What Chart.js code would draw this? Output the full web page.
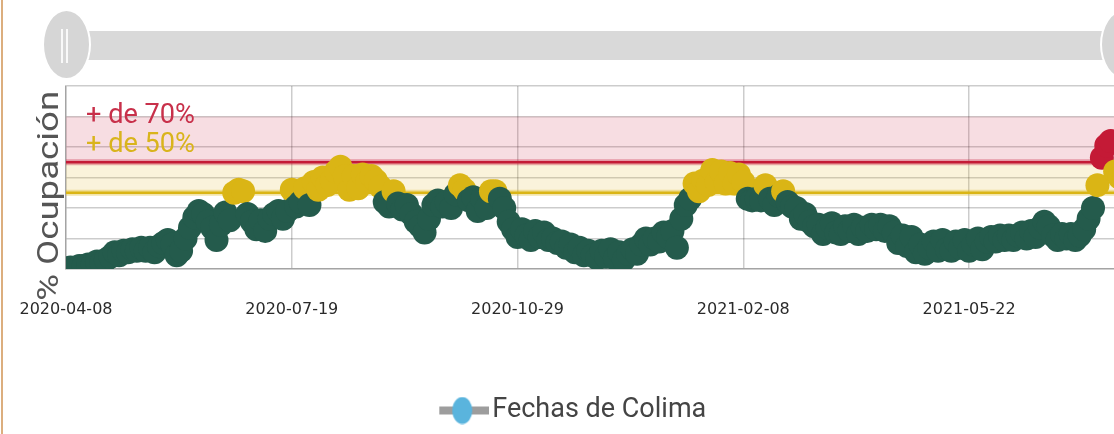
<!DOCTYPE html>
<html lang="es">
<head>
<meta charset="utf-8">
<title>Ocupación hospitalaria - Colima</title>
<script src="https://cdn.jsdelivr.net/npm/chart.js@4.4.1/dist/chart.umd.min.js"></script>
<style>
    html, body { margin: 0; padding: 0; background: #fff; overflow: hidden; }
    #wrap { position: relative; width: 1114px; height: 434px; overflow: hidden; }
    #grafica { position: absolute; left: 0; top: 0; }
    #borde { position: absolute; left: 1px; top: 0; width: 2px; height: 434px; background: #dcae7e; }
    /* barra del zoom */
    .barra { position: absolute; left: 66px; top: 31px; width: 1058px; height: 29px; background: #d9d9d9; }
    .asa { position: absolute; top: 9px; width: 45px; height: 67px; border-radius: 50%;
           background: #d6d6d6; border: 2px solid #fff; }
    .asa::before, .asa::after { content: ""; position: absolute; top: 18px; width: 2px; height: 34px;
           background: rgba(255,255,255,0.85); }
    .asa::before { left: 17px; }
    .asa::after { left: 22px; }
</style>
</head>
<body>
<div id="wrap">
    <canvas id="grafica" width="1155" height="434"></canvas>
    <div class="barra"></div>
    <div class="asa" style="left:42px"></div>
    <div class="asa" style="left:1100px"></div>
    <div id="borde"></div>
</div>

<script>
//////////////////////////////////////
//              Datos               //
//////////////////////////////////////

const paso = 2; // días entre lecturas, desde 2020-04-08

// % de ocupación
const ocupacion = [
    0, 1, 0, 2, 2, 3, 3, 5, 4, 6,
    8, 11, 9, 12, 11, 13, 12, 14, 12, 14,
    11, 15, 17, 19, 16, 9, 12, 20, 27, 34,
    38, 36, 31, 27, 19, 29, 37, 32, 50, 52,
    51, 36, 31, 26, 32, 25, 33, 36, 38, 33,
    38, 52, 41, 44, 53, 42, 57, 52, 60, 55,
    58, 64, 67, 61, 52, 61, 53, 62, 57, 61,
    58, 54, 44, 41, 51, 43, 39, 42, 36, 31,
    28, 24, 33, 42, 45, 41, 44, 40, 49, 55,
    52, 45, 47, 38, 46, 40, 51, 51, 46, 40,
    31, 26, 21, 26, 22, 19, 25, 21, 24, 19,
    20, 17, 18, 14, 16, 11, 14, 9, 12, 9,
    7, 12, 8, 13, 7, 11, 6, 10, 13, 10,
    16, 20, 16, 20, 18, 24, 21, 25, 14, 33,
    42, 46, 56, 51, 58, 55, 65, 57, 64, 56,
    63, 56, 62, 57, 46, 45, 46, 45, 55, 46,
    42, 48, 51, 44, 41, 40, 33, 36, 31, 28,
    29, 23, 27, 30, 24, 23, 28, 25, 29, 23,
    27, 25, 29, 26, 29, 25, 28, 24, 17, 22,
    15, 21, 11, 16, 10, 14, 18, 12, 19, 13,
    12, 18, 14, 19, 12, 16, 20, 13, 18, 21,
    18, 22, 19, 22, 19, 22, 24, 20, 25, 21,
    27, 31, 28, 22, 19, 23, 20, 23, 19, 22,
    26, 33, 40, 55, 73, 81, 84, 64, 60, 62
];

// etiquetas del eje x (día desde el inicio -> fecha)
const diasEje = [0, 102, 204, 306, 408];
const fechasEje = ['2020-04-08', '2020-07-19', '2020-10-29', '2021-02-08', '2021-05-22'];
const ultimoDia = 478;

const umbralAmarillo = 50;
const umbralRojo = 70;
const topeBanda = 100;

const colorVerde = '#245b4c';
const colorAmarillo = '#dab515';
const colorRojo = '#c41a36';
const colorRejilla = 'rgba(0,0,0,0.2)';
const fuente = 'Roboto, "Noto Sans", sans-serif';

function colorPunto(v) {
    if (v >= umbralRojo) return colorRojo;
    if (v >= umbralAmarillo) return colorAmarillo;
    return colorVerde;
}

//////////////////////////////////////
//             Leyenda              //
//////////////////////////////////////

// icono: línea gris con un círculo azul (margen transparente a la izquierda)
const iconoLeyenda = document.createElement('canvas');
iconoLeyenda.width = 82;
iconoLeyenda.height = 28;
(function() {
    const c = iconoLeyenda.getContext('2d');
    c.fillStyle = '#9d9d9d';
    c.fillRect(32, 10, 50, 8);
    c.fillStyle = '#5ab4dd';
    c.beginPath();
    c.ellipse(55, 14, 10, 13.5, 0, 0, Math.PI * 2);
    c.fill();
})();

//////////////////////////////////////
//             Plugins              //
//////////////////////////////////////

function textoAjustado(ctx, txt, x, y, ancho) {
    const w = ctx.measureText(txt).width;
    ctx.save();
    ctx.translate(x, y);
    ctx.scale(ancho / w, 1);
    ctx.fillText(txt, 0, 0);
    ctx.restore();
}

const bandas = {
    id: 'bandas',
    beforeDatasetsDraw(chart) {
        const { ctx, chartArea: a, scales: { y } } = chart;
        const yTope = y.getPixelForValue(topeBanda);
        const yRojo = y.getPixelForValue(umbralRojo);
        const yAmarillo = y.getPixelForValue(umbralAmarillo);
        ctx.save();
        ctx.fillStyle = 'rgba(200,30,60,0.15)';
        ctx.fillRect(a.left, yTope, a.width, yRojo - yTope);
        ctx.fillStyle = 'rgba(222,182,30,0.16)';
        ctx.fillRect(a.left, yRojo, a.width, yAmarillo - yRojo);

        [[yRojo, colorRojo], [yAmarillo, colorAmarillo]].forEach(([py, col]) => {
            ctx.strokeStyle = col;
            ctx.globalAlpha = 0.35;
            ctx.lineWidth = 6;
            ctx.beginPath(); ctx.moveTo(a.left, py); ctx.lineTo(a.right, py); ctx.stroke();
            ctx.globalAlpha = 1;
            ctx.lineWidth = 2.5;
            ctx.beginPath(); ctx.moveTo(a.left, py); ctx.lineTo(a.right, py); ctx.stroke();
        });

        ctx.font = '28px ' + fuente;
        ctx.textBaseline = 'alphabetic';
        ctx.textAlign = 'left';
        ctx.fillStyle = '#c8304a';
        textoAjustado(ctx, '+ de 70%', a.left + 20, y.getPixelForValue(96), 109);
        ctx.fillStyle = '#d9b41c';
        textoAjustado(ctx, '+ de 50%', a.left + 20, y.getPixelForValue(77), 109);
        ctx.restore();
    },
    afterDraw(chart) {
        // título del eje y
        const { ctx, scales: { y } } = chart;
        ctx.save();
        ctx.font = '30px ' + fuente;
        ctx.fillStyle = '#555';
        ctx.textAlign = 'center';
        ctx.textBaseline = 'alphabetic';
        ctx.translate(58, y.getPixelForValue(48));
        ctx.rotate(-Math.PI / 2);
        const txt = '% Ocupación';
        const w = ctx.measureText(txt).width;
        ctx.scale(210 / w, 1);
        ctx.fillText(txt, 0, 0);
        ctx.restore();
    }
};

//////////////////////////////////////
//             Chart                //
//////////////////////////////////////

const puntos = ocupacion.map((v, i) => ({ x: i * paso, y: v }));

new Chart(document.getElementById('grafica').getContext('2d'), {
    type: 'scatter',
    data: {
        datasets: [{
            label: 'Fechas de Colima',
            data: puntos,
            pointRadius: 12,
            pointBorderWidth: 0,
            pointBackgroundColor: ctx => colorPunto(ctx.raw ? ctx.raw.y : 0),
            clip: 0
        }]
    },
    options: {
        responsive: false,
        animation: false,
        events: [],
        devicePixelRatio: 1,
        layout: { padding: { top: 86, right: 31, bottom: 0, left: 0 } },
        scales: {
            x: {
                type: 'linear',
                min: 0,
                max: ultimoDia,
                afterBuildTicks: s => { s.ticks = diasEje.map(v => ({ value: v })); },
                afterFit: s => { s.height = 434 - 269 - (s.chart.legend ? s.chart.legend.height : 0); },
                ticks: {
                    autoSkip: false,
                    maxRotation: 0,
                    padding: 0,
                    color: '#2a2a2a',
                    font: { family: '"DejaVu Sans", sans-serif', size: 16 },
                    callback: v => fechasEje[diasEje.indexOf(v)]
                },
                // marcas invisibles para bajar las etiquetas
                grid: { color: colorRejilla, lineWidth: 1.5, drawTicks: true, tickLength: 31, tickColor: 'transparent' },
                border: { display: true, color: colorRejilla, width: 1.5 }
            },
            y: {
                min: 0,
                max: 120,
                afterFit: s => { s.width = 66; },
                ticks: { stepSize: 20, display: false },
                grid: { color: colorRejilla, lineWidth: 1.5, drawTicks: false },
                border: { display: true, color: colorRejilla, width: 1.5 }
            }
        },
        plugins: {
            tooltip: { enabled: false },
            legend: {
                position: 'bottom',
                labels: {
                    usePointStyle: true,
                    pointStyleWidth: 61,
                    padding: 3,
                    color: '#444',
                    font: { family: fuente, size: 27 },
                    generateLabels: () => [{
                        text: 'Fechas de Colima',
                        pointStyle: iconoLeyenda,
                        fillStyle: 'transparent',
                        strokeStyle: 'transparent',
                        lineWidth: 0,
                        hidden: false,
                        datasetIndex: 0,
                        fontColor: '#444'
                    }]
                }
            }
        }
    },
    plugins: [bandas]
});
</script>
</body>
</html>
